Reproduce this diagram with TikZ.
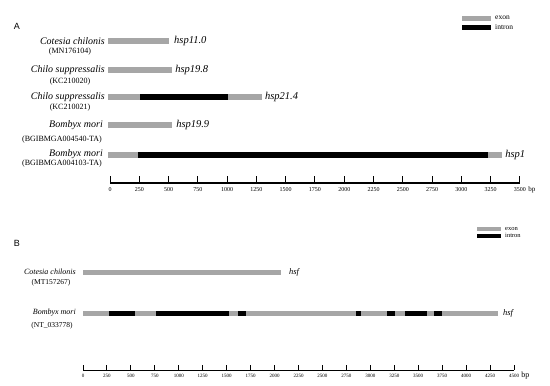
\documentclass[tikz,border=0pt]{standalone}
\usepackage{fontspec}
\setmainfont{Liberation Serif}
\newfontfamily\panelfont{Liberation Sans}
\usetikzlibrary{positioning}
\definecolor{exongray}{HTML}{A6A6A6}

\begin{document}
\begin{tikzpicture}[x=1pt, y=-1pt,
    exon/.style={fill=exongray},
    intron/.style={fill=black},
    panel/.style={font=\panelfont\fontsize{9}{10}\selectfont, inner sep=0pt},
    species/.style={font=\fontsize{10}{11}\selectfont\itshape, anchor=east, inner sep=0pt},
    acc/.style={font=\fontsize{8}{9}\selectfont, inner sep=0pt},
    gene/.style={font=\fontsize{10.5}{12}\selectfont\itshape, anchor=west, inner sep=0pt},
    ticklab/.style={font=\fontsize{6}{7}\selectfont, inner sep=0pt},
    legend/.style={font=\fontsize{7.5}{8}\selectfont, anchor=west, inner sep=0pt}]
  \useasboundingbox (0,0) rectangle (550,386);

  % ---------- panel A ----------
  \node[panel] (A) at (17,26) {A};
  \fill[exon]   (462,16) rectangle (491,20.5);
  \fill[intron] (462,25) rectangle (491,29.5);
  \node[legend] (exA) at (495,18) {exon};
  \node[legend] (inA) at (495,27) {intron};

  \node[species] (spA1) at (105,41)  {Cotesia chilonis};
  \node[acc]     (acA1) at (70,52)   {(MN176104)};
  \node[species] (spA2) at (105,70)  {Chilo suppressalis};
  \node[acc]     (acA2) at (70,81.5) {(KC210020)};
  \node[species] (spA3) at (105,97)  {Chilo suppressalis};
  \node[acc]     (acA3) at (70,108)  {(KC210021)};
  \node[species] (spA4) at (103,125) {Bombyx mori};
  \node[acc]     (acA4) at (62,140)  {(BGIBMGA004540-TA)};
  \node[species] (spA5) at (103,154) {Bombyx mori};
  \node[acc]     (acA5) at (62,164)  {(BGIBMGA004103-TA)};

  \begin{scope}[shift={(110,0)}, x=0.11714pt]
    % gene models, in bp
    \fill[exon] (-15,38) rectangle (504,44);
    \coordinate (eA1) at (504,41);
    \fill[exon] (-15,67) rectangle (530,73);
    \coordinate (eA2) at (530,70);
    \fill[exon] (-15,94) rectangle (1297,100);
    \fill[intron] (256,94) rectangle (1007,100);
    \coordinate (eA3) at (1297,97);
    \fill[exon] (-15,122) rectangle (530,128);
    \coordinate (eA4) at (530,125);
    \fill[exon] (-15,152) rectangle (3348,158);
    \fill[intron] (239,152) rectangle (3228,158);
    \coordinate (eA5) at (3348,155);

    % scale
    \draw[line width=1.2pt] (0,183) -- (3500,183);
    \foreach \t in {0,250,...,3500} {
      \draw[line width=1pt] (\t,183) -- (\t,176);
      \node[ticklab] (tA\t) at (\t,189.5) {\t};
    }
    \node[font=\fontsize{7}{8}\selectfont, inner sep=0pt, right=2pt of tA3500] (bpA) {bp};
  \end{scope}

  \node[gene, right=5pt of eA1] (gA1) {hsp11.0};
  \node[gene, right=3pt of eA2] (gA2) {hsp19.8};
  \node[gene, right=3pt of eA3] (gA3) {hsp21.4};
  \node[gene, right=4pt of eA4] (gA4) {hsp19.9};
  \node[gene, right=3pt of eA5] (gA5) {hsp1};

  % ---------- panel B ----------
  \node[panel] (B) at (17,243) {B};
  \fill[exon]   (477,226.5) rectangle (501,230.5);
  \fill[intron] (477,233.5) rectangle (501,237.5);
  \node[legend, font=\fontsize{6.5}{7}\selectfont] (exB) at (505,228.5) {exon};
  \node[legend, font=\fontsize{6.5}{7}\selectfont] (inB) at (505,235.5) {intron};

  \node[species, font=\fontsize{8}{9}\selectfont\itshape] (spB1) at (76,272) {Cotesia chilonis};
  \node[acc, font=\fontsize{7.5}{8}\selectfont] (acB1) at (51,283) {(MT157267)};
  \node[species, font=\fontsize{8}{9}\selectfont\itshape] (spB2) at (76,313) {Bombyx mori};
  \node[acc, font=\fontsize{7.5}{8}\selectfont] (acB2) at (52,326) {(NT\_033778)};

  \begin{scope}[shift={(83,0)}, x=0.09578pt]
    \fill[exon] (0,269.5) rectangle (2067,274.5);
    \coordinate (eB1) at (2067,272);
    \fill[exon] (0,310.5) rectangle (4332,315.5);
    \foreach \a/\b in {271/543, 762/1524, 1618/1701, 2850/2902,
                       3173/3257, 3361/3591, 3664/3747}
      \fill[intron] (\a,310.5) rectangle (\b,315.5);
    \coordinate (eB2) at (4332,313);

    % scale
    \draw[line width=1pt] (0,370) -- (4500,370);
    \foreach \t in {0,250,...,4500} {
      \draw[line width=0.9pt] (\t,370) -- (\t,365);
      \node[ticklab, font=\fontsize{5}{6}\selectfont] (tB\t) at (\t,375.5) {\t};
    }
    \node[font=\fontsize{8}{9}\selectfont, inner sep=0pt, right=2pt of tB4500] (bpB) {bp};
  \end{scope}

  \node[gene, font=\fontsize{8.5}{10}\selectfont\itshape, right=8pt of eB1] (gB1) {hsf};
  \node[gene, font=\fontsize{8.5}{10}\selectfont\itshape, right=5pt of eB2] (gB2) {hsf};
\end{tikzpicture}
\end{document}
